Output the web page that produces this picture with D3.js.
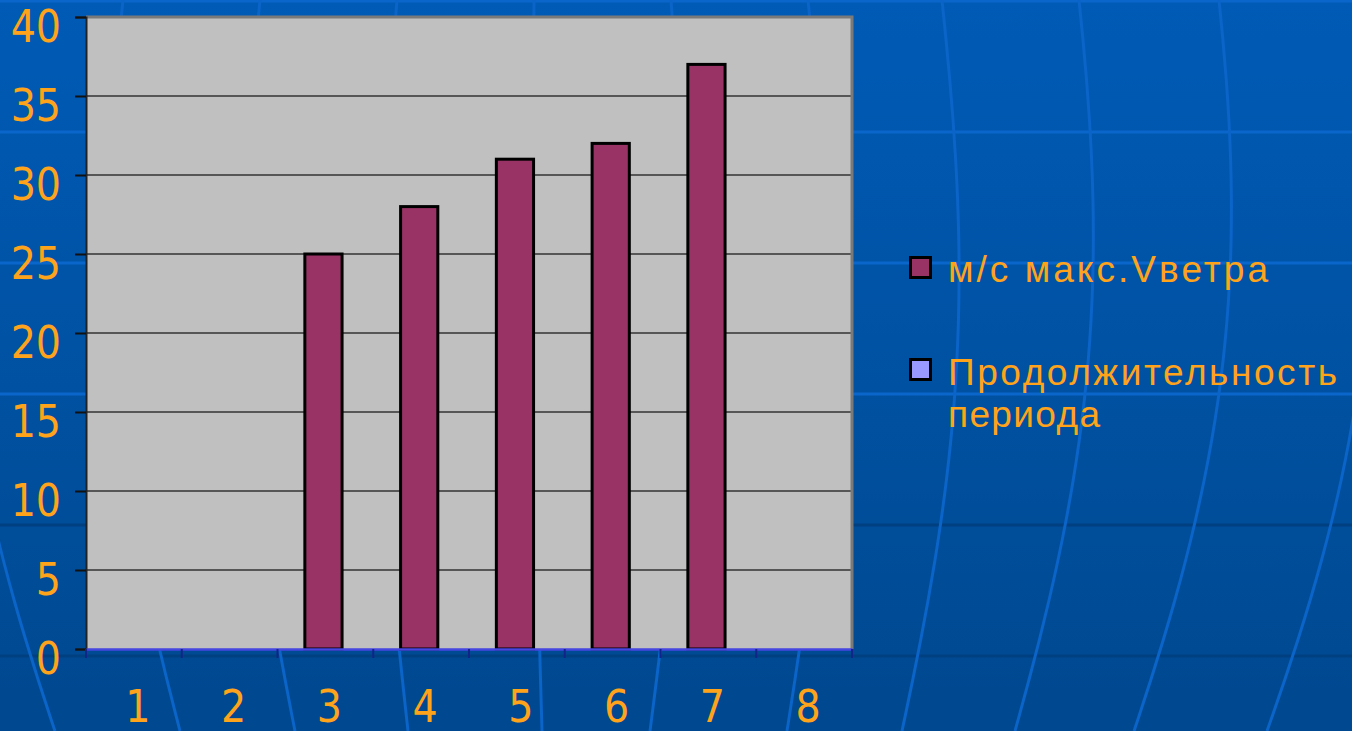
<!DOCTYPE html>
<head>
    <title>Bar chart - wind speed</title>
</head>
<meta charset="utf-8">

<script src="https://d3js.org/d3.v7.min.js"></script>

<style>
  body { margin: 0; overflow: hidden; }
  text { font-family: "DejaVu Sans Condensed", "DejaVu Sans", sans-serif; font-stretch: condensed; }
</style>

<div id="my_dataviz"></div>
<body>
    <script>

    // data
    var categories = ["1", "2", "3", "4", "5", "6", "7", "8"];
    var seriesNames = ["м/с макс.Vветра", "Продолжительность периода"];
    var windMax = [0, 0, 25, 28, 31, 32, 37, 0];
    var duration = [0, 0, 0, 0, 0, 0, 0, 0];
    var yTicks = [0, 5, 10, 15, 20, 25, 30, 35, 40];

    var W = 1352, H = 731;
    var margin = {top: 17, right: 500, bottom: 82, left: 86},
      width = W - margin.left - margin.right,
      height = H - margin.top - margin.bottom;

    var orange = "#ffa31a";
    var colors = ["#993366", "#9999ff"];

    var root = d3.select("#my_dataviz")
      .append("svg")
        .attr("width", W)
        .attr("height", H);

    // background
    var defs = root.append("defs");
    var grad = defs.append("linearGradient").attr("id", "bg")
      .attr("x1", 0).attr("y1", 0).attr("x2", 0).attr("y2", 1);
    grad.append("stop").attr("offset", "0%").attr("stop-color", "#005bb6");
    grad.append("stop").attr("offset", "100%").attr("stop-color", "#00488f");
    root.append("rect").attr("width", W).attr("height", H).attr("fill", "url(#bg)");

    // decorative globe lines
    var bgLines = [0, 131, 262, 393, 524, 655];
    root.selectAll(".hline").data(bgLines).enter()
      .append("line")
        .attr("x1", 0).attr("x2", W)
        .attr("y1", function(d) { return d + 1; }).attr("y2", function(d) { return d + 1; })
        .attr("stroke", function(d) { return d > 500 ? "#003f80" : "#0b66cc"; })
        .attr("stroke-width", 3);

    var merTop = [-30, 123, 260, 397, 534, 671, 808, 942, 1079, 1219, 1359];
    var merBottom = [55, 180, 295, 408, 542, 650, 787, 902, 1015, 1134, 1267];
    var meridian = d3.line().curve(d3.curveBasis);
    merTop.forEach(function(t, i) {
      var b = merBottom[i], bulge = 25 * Math.tanh((t - 545) / 150);
      var pts = d3.range(0, 732, 40).concat([731]).map(function(y) {
        var s = Math.pow(y / H, 2);
        return [t + (b - t) * s + bulge * Math.sin(Math.PI * y / H), y];
      });
      root.append("path").attr("d", meridian(pts))
        .attr("fill", "none").attr("stroke", "#0b64c8").attr("stroke-width", 3);
    });

    var svg = root.append("g")
      .attr("transform", "translate(" + margin.left + "," + margin.top + ")");

    // scales
    var x0 = d3.scaleBand().domain(categories).range([0, width]);
    var bw = x0.bandwidth();
    var x1 = d3.scaleBand().domain(seriesNames).range([bw * 0.27, bw * 0.27 + 2 * bw * 0.42]);
    var y = d3.scaleLinear().domain([0, 40]).range([height, 0]);

    // plot area
    svg.append("rect")
      .attr("width", width).attr("height", height)
      .attr("fill", "#c0c0c0");

    // gridlines
    svg.selectAll(".grid").data(yTicks.filter(function(d) { return d > 0 && d < 40; })).enter()
      .append("line")
        .attr("x1", 0).attr("x2", width)
        .attr("y1", function(d) { return y(d); }).attr("y2", function(d) { return y(d); })
        .attr("stroke", "#333").attr("stroke-width", 1.5);

    // border top/right
    svg.append("path")
      .attr("d", "M0," + y(40) + "H" + width + "V" + height)
      .attr("fill", "none").attr("stroke", "#7a7a7a").attr("stroke-width", 3);

    // bars
    var rows = categories.map(function(c, i) { return {cat: c, vals: [windMax[i], duration[i]]}; });
    svg.selectAll(".cat").data(rows).enter()
      .append("g")
        .attr("transform", function(d) { return "translate(" + x0(d.cat) + ",0)"; })
      .selectAll("rect")
      .data(function(d) { return d.vals.map(function(v, j) { return {name: seriesNames[j], v: v, j: j}; }); })
      .enter()
      .filter(function(d) { return d.v > 0; })
      .append("rect")
        .attr("x", function(d) { return x1(d.name) + 1.5; })
        .attr("width", x1.bandwidth() - 3)
        .attr("y", function(d) { return y(d.v); })
        .attr("height", function(d) { return height - y(d.v); })
        .attr("fill", function(d) { return colors[d.j]; })
        .attr("stroke", "#000").attr("stroke-width", 3);

    // y axis
    var yAxis = svg.append("g")
      .call(d3.axisLeft(y).tickValues(yTicks).tickSize(11).tickPadding(14));
    yAxis.select(".domain").attr("stroke", "#222").attr("stroke-width", 2);
    yAxis.selectAll(".tick line").attr("stroke", "#111").attr("stroke-width", 2);
    yAxis.selectAll(".tick text")
      .attr("fill", orange).attr("font-size", 44)
      .attr("dy", 24)
      .style("font-family", null);

    // x axis
    var xAxis = svg.append("g")
      .attr("transform", "translate(0," + height + ")")
      .call(d3.axisBottom(x0).tickSize(0).tickPadding(0));
    xAxis.select(".domain").attr("stroke", "#4646e0").attr("stroke-width", 2.5);
    xAxis.selectAll(".tick text")
      .attr("fill", orange).attr("font-size", 44)
      .attr("y", 73).attr("dy", 0).attr("dx", 4)
      .style("font-family", null);
    xAxis.selectAll(".sep").data(d3.range(categories.length + 1)).enter()
      .append("line")
        .attr("x1", function(d) { return d * bw; }).attr("x2", function(d) { return d * bw; })
        .attr("y1", 0).attr("y2", 9)
        .attr("stroke", "#12248a").attr("stroke-width", 2);

    // legend
    var legend = root.append("g").attr("transform", "translate(909,0)");
    var legendLines = [
      {j: 0, box: 268, texts: [{t: "м/с макс.Vветра", y: 282, len: 320}]},
      {j: 1, box: 370, texts: [{t: "Продолжительность", y: 385, len: 389}, {t: "периода", y: 427, len: 152}]}
    ];
    legendLines.forEach(function(l) {
      legend.append("rect")
        .attr("x", 1.5).attr("y", l.box - 10.5)
        .attr("width", 20).attr("height", 20)
        .attr("fill", colors[l.j]).attr("stroke", "#000").attr("stroke-width", 3);
      l.texts.forEach(function(t) {
        legend.append("text")
          .attr("x", 39).attr("y", t.y)
          .attr("fill", orange)
          .attr("font-size", 37)
          .attr("textLength", t.len)
          .attr("lengthAdjust", "spacing")
          .style("font-family", "'Liberation Sans', Arial, sans-serif")
          .style("font-stretch", "normal")
          .text(t.t);
      });
    });

</script>
</body>
